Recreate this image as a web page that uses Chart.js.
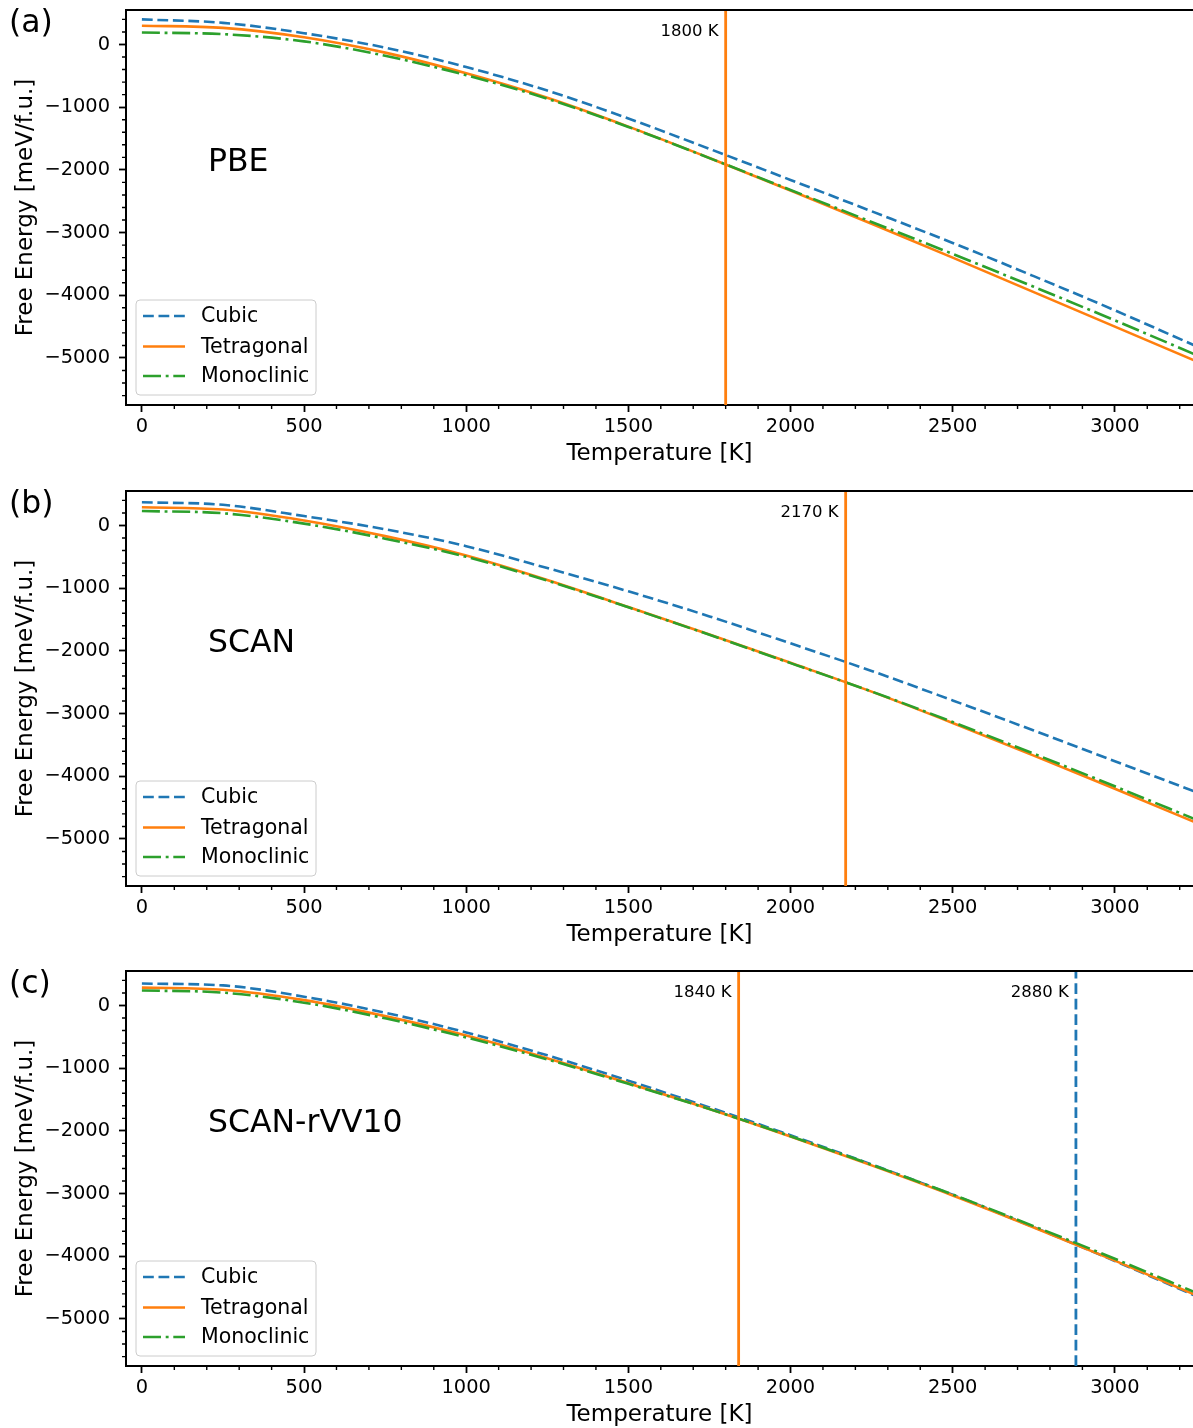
<!DOCTYPE html>
<html>
<head>
<meta charset="utf-8">
<script src="https://cdn.jsdelivr.net/npm/chart.js@4.4.1/dist/chart.umd.min.js"></script>
<style>
html,body{margin:0;padding:0;background:#fff;}
body{width:1193px;height:1428px;position:relative;overflow:hidden;}
canvas{position:absolute;left:0;}
</style>
</head>
<body>
<canvas id="ca" width="1193" height="481" style="top:0px"></canvas>
<canvas id="cb" width="1193" height="480" style="top:481px"></canvas>
<canvas id="cc" width="1193" height="467" style="top:961px"></canvas>
<script>
// ---------- data ----------
const temperatures = [0, 250, 500, 750, 1000, 1250, 1500, 1750, 2000, 2250, 2500, 2750, 3000, 3250];

const cubicPBE = [400, 345, 180, -50, -360, -735, -1180, -1665, -2160, -2660, -3165, -3695, -4240, -4810];
const tetraPBE = [300, 265, 115, -130, -460, -850, -1310, -1810, -2330, -2860, -3400, -3950, -4500, -5050];
const monoPBE  = [190, 165, 50, -180, -490, -865, -1315, -1812, -2320, -2830, -3340, -3865, -4400, -4950];

const cubicSCAN = [370, 330, 150, -60, -330, -680, -1050, -1450, -1880, -2320, -2790, -3270, -3760, -4250];
const tetraSCAN = [290, 255, 80, -170, -480, -870, -1300, -1740, -2190, -2650, -3150, -3670, -4200, -4740];
const monoSCAN  = [230, 195, 30, -210, -500, -880, -1305, -1743, -2195, -2648, -3135, -3640, -4160, -4690];

const cubicRVV = [350, 320, 140, -115, -430, -795, -1200, -1625, -2070, -2535, -3020, -3535, -4075, -4635];
const tetraRVV = [285, 250, 85, -170, -480, -840, -1240, -1650, -2090, -2550, -3030, -3540, -4070, -4620];
const monoRVV  = [240, 205, 45, -205, -510, -860, -1250, -1653, -2085, -2540, -3015, -3520, -4040, -4580];

const transitionTempsPBE = [1800];
const transitionPhasesPBE = ['Tetragonal'];
const transitionTempsSCAN = [2170];
const transitionPhasesSCAN = ['Tetragonal'];
const transitionTempsRVV = [1840, 2880];
const transitionPhasesRVV = ['Tetragonal', 'Cubic'];

const seriesNames = ['Cubic', 'Tetragonal', 'Monoclinic'];
const xMajorTicks = [0, 500, 1000, 1500, 2000, 2500, 3000];
const yMajorTicks = [-5000, -4000, -3000, -2000, -1000, 0];
const X_MIN = -49, X_MAX = 3241, Y_MIN = -5750, Y_MAX = 550;

// ---------- styling ----------
const FONT = "'DejaVu Sans', 'Liberation Sans', sans-serif";
Chart.defaults.font.family = FONT;
Chart.defaults.color = '#000';
const STYLE = {
  Cubic:      {color: '#1f77b4', dash: [10.8, 4.7]},
  Tetragonal: {color: '#ff7f0e', dash: []},
  Monoclinic: {color: '#2ca02c', dash: [18, 4.7, 2.9, 4.7]}
};
const fmt = v => (v < 0 ? '\u2212' + Math.abs(v) : String(v));
const toXY = vals => temperatures.map((t, i) => ({x: t, y: vals[i]}));

const decor = {
  id: 'decor',
  afterDraw(chart) {
    const o = chart.options.plugins.decor;
    const {ctx, chartArea: a} = chart;
    const xs = chart.scales.x, ys = chart.scales.y;
    ctx.save();
    // top spine
    ctx.strokeStyle = '#000';
    ctx.lineWidth = 2;
    ctx.beginPath();
    ctx.moveTo(a.left - 1, a.top);
    ctx.lineTo(a.right, a.top);
    ctx.stroke();
    // minor ticks
    ctx.lineWidth = 1.4;
    ctx.beginPath();
    for (let v = Math.ceil(X_MIN / 100) * 100; v <= X_MAX; v += 100) {
      if (v % 500 === 0) continue;
      const px = xs.getPixelForValue(v);
      ctx.moveTo(px, a.bottom); ctx.lineTo(px, a.bottom + 4);
    }
    for (let v = Math.ceil(Y_MIN / 200) * 200; v <= Y_MAX; v += 200) {
      if (v % 1000 === 0) continue;
      const py = ys.getPixelForValue(v);
      ctx.moveTo(a.left, py); ctx.lineTo(a.left - 4, py);
    }
    ctx.stroke();

    // transition labels
    ctx.fillStyle = '#000';
    ctx.font = '16.5px ' + FONT;
    ctx.textAlign = 'right';
    ctx.textBaseline = 'middle';
    o.temps.forEach(T => {
      ctx.fillText(T + ' K', xs.getPixelForValue(T) - 7, a.top + 22);
    });

    // panel letter and functional name
    ctx.textAlign = 'left';
    ctx.font = '31.5px ' + FONT;
    ctx.fillText(o.letter, 9, a.top + 14);
    ctx.fillText(o.name, 208, a.top + 153);

    // legend
    const lx = a.left + 10, ly = a.bottom - 105, lw = 180, lh = 95, r = 4;
    ctx.beginPath();
    ctx.moveTo(lx + r, ly);
    ctx.lineTo(lx + lw - r, ly); ctx.arcTo(lx + lw, ly, lx + lw, ly + r, r);
    ctx.lineTo(lx + lw, ly + lh - r); ctx.arcTo(lx + lw, ly + lh, lx + lw - r, ly + lh, r);
    ctx.lineTo(lx + r, ly + lh); ctx.arcTo(lx, ly + lh, lx, ly + lh - r, r);
    ctx.lineTo(lx, ly + r); ctx.arcTo(lx, ly, lx + r, ly, r);
    ctx.closePath();
    ctx.fillStyle = 'rgba(255,255,255,0.8)';
    ctx.fill();
    ctx.strokeStyle = '#cccccc';
    ctx.lineWidth = 1;
    ctx.stroke();
    const rowsY = [a.bottom - 89, a.bottom - 58.5, a.bottom - 29];
    const legendSets = chart.data.datasets.filter(d => d.inLegend);
    legendSets.forEach((d, i) => {
      const yy = rowsY[i];
      ctx.beginPath();
      ctx.setLineDash(d.borderDash || []);
      ctx.strokeStyle = d.borderColor;
      ctx.lineWidth = d.borderWidth;
      ctx.moveTo(a.left + 17, yy); ctx.lineTo(a.left + 59, yy);
      ctx.stroke();
      ctx.setLineDash([]);
      ctx.fillStyle = '#000';
      ctx.font = '20.5px ' + FONT;
      ctx.textAlign = 'left';
      ctx.textBaseline = 'middle';
      ctx.fillText(d.label, a.left + 75, yy + 1);
    });
    ctx.restore();
  }
};

function makeChart(id, H, letter, name, cubic, tetra, mono, temps, phases) {
  const curves = [cubic, tetra, mono];
  const datasets = seriesNames.map((nm, i) => ({
    label: nm,
    data: toXY(curves[i]),
    borderColor: STYLE[nm].color,
    borderDash: STYLE[nm].dash,
    borderWidth: 2.6,
    borderCapStyle: 'butt',
    pointRadius: 0,
    fill: false,
    cubicInterpolationMode: 'monotone',
    order: 3 - i,
    inLegend: true
  }));
  temps.forEach((T, i) => {
    datasets.push({
      label: T + ' K',
      data: [{x: T, y: Y_MIN}, {x: T, y: Y_MAX}],
      borderColor: STYLE[phases[i]].color,
      borderDash: STYLE[phases[i]].dash,
      borderWidth: 2.8,
      borderCapStyle: 'butt',
      pointRadius: 0,
      fill: false,
      tension: 0,
      order: 0,
      inLegend: false
    });
  });
  return new Chart(document.getElementById(id), {
    type: 'line',
    data: {datasets},
    plugins: [decor],
    options: {
      responsive: false,
      animation: false,
      devicePixelRatio: 1,
      layout: {padding: {top: 10, left: 0, right: 0, bottom: 0}},
      plugins: {
        legend: {display: false},
        tooltip: {enabled: false},
        decor: {letter, name, temps}
      },
      scales: {
        x: {
          type: 'linear', min: X_MIN, max: X_MAX,
          afterBuildTicks: ax => { ax.ticks = xMajorTicks.map(v => ({value: v})); },
          afterFit: ax => { ax.height = H - 405; ax.paddingLeft = 0; ax.paddingRight = 0; },
          ticks: {color: '#000', font: {size: 19.4}, padding: 3, maxRotation: 0, autoSkip: false, callback: v => fmt(v)},
          grid: {display: true, drawOnChartArea: false, drawTicks: true, tickLength: 7, tickWidth: 1.8, tickColor: '#000'},
          border: {display: true, color: '#000', width: 2},
          title: {display: true, text: 'Temperature [K]', color: '#000', font: {size: 23, lineHeight: 1.2}, padding: {top: 0, bottom: H - 13.8 - 454}}
        },
        y: {
          type: 'linear', min: Y_MIN, max: Y_MAX,
          afterBuildTicks: ax => { ax.ticks = yMajorTicks.map(v => ({value: v})); },
          afterFit: ax => { ax.width = 126; ax.paddingTop = 0; ax.paddingBottom = 0; },
          ticks: {color: '#000', font: {size: 19.4}, padding: 9, autoSkip: false, callback: v => fmt(v)},
          grid: {display: true, drawOnChartArea: false, drawTicks: true, tickLength: 7, tickWidth: 1.8, tickColor: '#000'},
          border: {display: true, color: '#000', width: 2},
          title: {display: true, text: 'Free Energy [meV/f.u.]', color: '#000', font: {size: 23, lineHeight: 1.2}, padding: {top: 12, bottom: 0}}
        }
      }
    }
  });
}

makeChart('ca', 481, '(a)', 'PBE', cubicPBE, tetraPBE, monoPBE, transitionTempsPBE, transitionPhasesPBE);
makeChart('cb', 480, '(b)', 'SCAN', cubicSCAN, tetraSCAN, monoSCAN, transitionTempsSCAN, transitionPhasesSCAN);
makeChart('cc', 467, '(c)', 'SCAN-rVV10', cubicRVV, tetraRVV, monoRVV, transitionTempsRVV, transitionPhasesRVV);
</script>
</body>
</html>
